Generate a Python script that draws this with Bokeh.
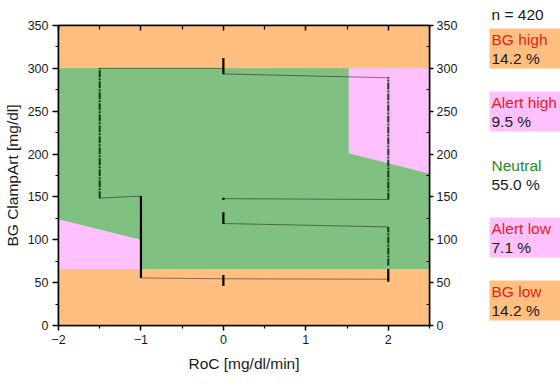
from bokeh.plotting import figure
from bokeh.models import Range1d, LinearAxis, FixedTicker, CustomLabelingPolicy
from bokeh.layouts import row
from bokeh.core.properties import value
from bokeh.embed import file_html
from bokeh.resources import INLINE

# ---------------- data ----------------
x_lim = (-2, 2.5)
y_lim = (0, 350)
x_major = [-2, -1, 0, 1, 2]
x_minor = [-1.5, -0.5, 0.5, 1.5, 2.5]
y_major = [0, 50, 100, 150, 200, 250, 300, 350]
y_minor = [25, 75, 125, 175, 225, 275, 325]

bg_low_limit = 66
bg_high_limit = 300

alert_low_roc = [-2, -1, -1, -2]
alert_low_bg = [66, 66, 100, 124]
alert_high_roc = [1.52, 2.5, 2.5, 1.52]
alert_high_bg = [201, 177, 300, 300]

# dense measurement columns: RoC, BG from, BG to
dense_roc = [-1, 0, 0, 0, 0, 2]
dense_bg_from = [55.5, 293, 146.5, 118.5, 46, 51]
dense_bg_to = [151, 312, 149, 132, 59, 66]
# sparse measurement columns
sparse_roc = [-1.5, 2, 2]
sparse_bg_from = [148.6, 147, 70]
sparse_bg_to = [300.5, 289.5, 115]

# connecting traces
trace_roc = [[-1.5, 0], [0, 2], [-1.5, -1], [-1, 0, 2], [0, 2], [0, 2]]
trace_bg = [[300, 300], [293.5, 289], [148.6, 151], [55.5, 54.5, 54], [148, 147], [119, 115]]

n_total = 420
zone_names = ["BG high", "Alert high", "Neutral", "Alert low", "BG low"]
zone_pct = [14.2, 9.5, 55.0, 7.1, 14.2]

# ---------------- style ----------------
ORANGE = "#FFBF80"
GREEN = "#80C080"
PINK = "#FFC0FF"
RED = "#E3231B"
DKGREEN = "#2A8A2A"
TXT = "#1a1a1a"
FONT_NAME = "Liberation Sans"
FONT = value(FONT_NAME)

FW, FH = 372, 300
BL, BT, BB, BR = 57, 25, 49, 41
W = BL + FW + BR
H = BT + FH + BB
p = figure(width=W, height=H, x_range=Range1d(*x_lim), y_range=Range1d(*y_lim),
           toolbar_location=None, output_backend="svg",
           min_border_left=BL, min_border_right=BR, min_border_top=BT, min_border_bottom=BB,
           outline_line_color="black", outline_line_width=1.5)
p.grid.visible = False

# zones
p.quad(left=x_lim[0], right=x_lim[1], bottom=y_lim[0], top=y_lim[1],
       fill_color=ORANGE, line_color=None)
p.quad(left=x_lim[0], right=x_lim[1], bottom=bg_low_limit, top=bg_high_limit,
       fill_color=GREEN, line_color=None)
p.patch(alert_low_roc, alert_low_bg, fill_color=PINK, line_color=None)
p.patch(alert_high_roc, alert_high_bg, fill_color=PINK, line_color=None)

# traces
p.multi_line(trace_roc, trace_bg, line_color="black", line_alpha=0.45, line_width=1)
p.segment(x0=sparse_roc, y0=sparse_bg_from, x1=sparse_roc, y1=sparse_bg_to,
          line_color="#0B2E0B", line_alpha=0.85, line_width=2.2, line_dash="7 1 2 1")
p.segment(x0=dense_roc, y0=dense_bg_from, x1=dense_roc, y1=dense_bg_to,
          line_color="black", line_width=2.2)

# axes
def style_axis(ax):
    ax.axis_line_width = 1.5
    ax.axis_line_color = "black"
    ax.major_tick_line_width = 1.5
    ax.minor_tick_line_width = 1.2
    ax.major_tick_line_color = "black"
    ax.minor_tick_line_color = "black"
    ax.major_label_text_font = FONT_NAME
    ax.major_label_text_font_size = "12.5px"
    ax.major_label_text_color = TXT
    ax.axis_label_text_font = FONT_NAME
    ax.axis_label_text_font_size = "15.5px"
    ax.axis_label_text_font_style = "normal"
    ax.axis_label_text_color = TXT

xb = p.xaxis[0]
xb.ticker = FixedTicker(ticks=x_major, minor_ticks=x_minor)
xb.major_label_overrides = {-2: "\u22122", -1: "\u22121"}
xb.axis_label = "RoC [mg/dl/min]"
style_axis(xb)
xb.major_tick_out = 5
xb.major_tick_in = 0
xb.minor_tick_out = 3
xb.minor_tick_in = 0
xb.major_label_standoff = 4
xb.axis_label_standoff = 8

yl = p.yaxis[0]
yl.ticker = FixedTicker(ticks=y_major, minor_ticks=y_minor)
yl.axis_label = "BG ClampArt [mg/dl]"
style_axis(yl)
yl.major_tick_out = 6
yl.major_tick_in = 0
yl.minor_tick_out = 3
yl.minor_tick_in = 0
yl.major_label_standoff = 4
yl.axis_label_standoff = 4

xt = LinearAxis(ticker=FixedTicker(ticks=x_major, minor_ticks=x_minor))
style_axis(xt)
xt.major_label_text_font_size = "0px"
xt.major_label_standoff = 0
xt.major_label_policy = CustomLabelingPolicy(
    code="try { for (const i of [...indices]) { indices.unset(i) } } catch (e) {} return indices")
xt.major_tick_in = 5
xt.major_tick_out = 0
xt.minor_tick_in = 4
xt.minor_tick_out = 0
p.add_layout(xt, "above")

yr = LinearAxis(ticker=FixedTicker(ticks=y_major, minor_ticks=y_minor))
style_axis(yr)
yr.major_tick_out = 4
yr.major_tick_in = 0
yr.minor_tick_in = 3
yr.minor_tick_out = 0
yr.major_label_standoff = 3
p.add_layout(yr, "right")

# ---------------- side panel ----------------
LW = 560 - W
q = figure(width=LW, height=H, x_range=Range1d(0, LW), y_range=Range1d(BT + FH, BT),
           toolbar_location=None, output_backend="svg",
           min_border_left=0, min_border_right=0, min_border_top=BT, min_border_bottom=BB,
           x_axis_location=None, y_axis_location=None, outline_line_color=None)
q.grid.visible = False
q.title.text = f"n = {n_total}"
q.title.text_font = FONT_NAME
q.title.text_font_size = "15.5px"
q.title.text_font_style = "normal"
q.title.text_color = TXT
q.title.align = "left"
q.title.offset = 21
q.title.standoff = 6

fills = [ORANGE, PINK, None, PINK, ORANGE]
name_colors = [RED, RED, DKGREEN, RED, RED]
tops = [28 + 63 * i for i in range(len(zone_names))]
box_i = [i for i, f in enumerate(fills) if f]
q.quad(left=19, right=LW, top=[tops[i] for i in box_i], bottom=[tops[i] + 40 for i in box_i],
       fill_color=[fills[i] for i in box_i], line_color=None)
q.text(x=21, y=[t + 11 for t in tops], text=zone_names, text_color=name_colors,
       text_font=FONT, text_font_size="15.5px", text_baseline="middle", text_align="left")
q.text(x=21, y=[t + 30 for t in tops], text=[f"{v:.1f} %" for v in zone_pct], text_color=TXT,
       text_font=FONT, text_font_size="15.5px", text_baseline="middle", text_align="left")

layout = row(p, q)
open("out.html", "w").write(file_html(layout, INLINE))
